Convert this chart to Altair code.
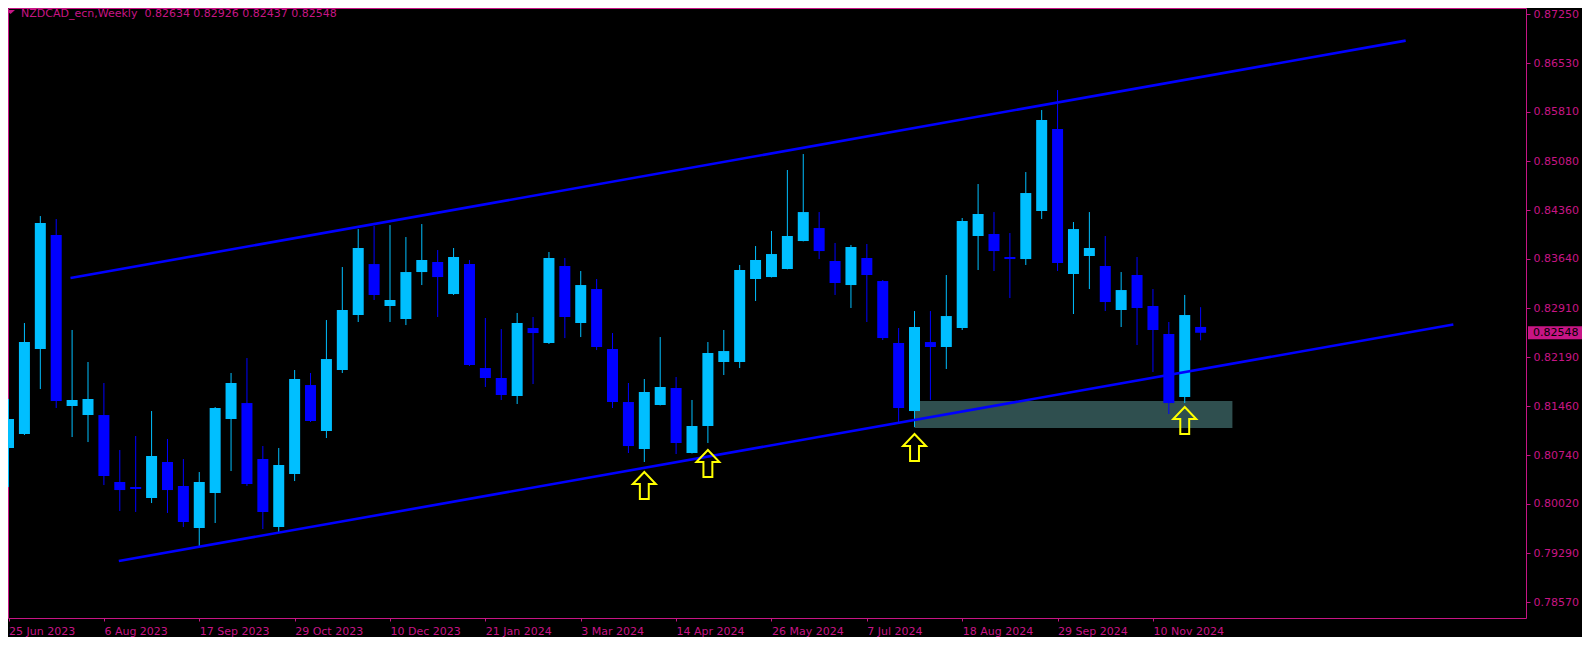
import json
import altair as alt
import pandas as pd

# ---------------- data ----------------
symbol = "NZDCAD_ecn"
period = "Weekly"

opens = [0.80846, 0.81053, 0.82308, 0.83992, 0.81466, 0.81333, 0.81333, 0.80344, 0.80270, 0.80107,
         0.80639, 0.80285, 0.79664, 0.80181, 0.81274, 0.81510, 0.80683, 0.79679, 0.80462, 0.81776,
         0.81097, 0.81998, 0.82810, 0.83563, 0.82943, 0.82751, 0.83445, 0.83593, 0.83120, 0.83563,
         0.82027, 0.81880, 0.81614, 0.82618, 0.82397, 0.83534, 0.82692, 0.83194, 0.82308, 0.81525,
         0.80831, 0.81481, 0.81732, 0.80772, 0.81171, 0.82116, 0.82116, 0.83342, 0.83371, 0.83490,
         0.83903, 0.84095, 0.83608, 0.83253, 0.83652, 0.83312, 0.82397, 0.81392, 0.82411, 0.82338,
         0.82618, 0.83977, 0.84007, 0.83667, 0.83637, 0.84346, 0.85557, 0.83416, 0.83682, 0.83534,
         0.82884, 0.83401, 0.82943, 0.82530, 0.81599, 0.82634]
highs = [0.81570, 0.82692, 0.84272, 0.84228, 0.82589, 0.82116, 0.81806, 0.80816, 0.81023, 0.81392,
         0.80979, 0.80683, 0.80491, 0.81451, 0.81954, 0.82175, 0.80875, 0.80846, 0.81998, 0.81954,
         0.82736, 0.83519, 0.84080, 0.84125, 0.84139, 0.83962, 0.84154, 0.83770, 0.83800, 0.83623,
         0.82766, 0.82603, 0.82840, 0.82781, 0.83741, 0.83652, 0.83460, 0.83342, 0.82544, 0.81806,
         0.81865, 0.82485, 0.81894, 0.81555, 0.82411, 0.82589, 0.83549, 0.83829, 0.84051, 0.84952,
         0.85188, 0.84331, 0.83874, 0.83844, 0.83859, 0.83327, 0.82618, 0.82869, 0.82869, 0.83401,
         0.84243, 0.84745, 0.84331, 0.84021, 0.84922, 0.85838, 0.86133, 0.84184, 0.84331, 0.83977,
         0.83445, 0.83667, 0.83194, 0.82707, 0.83106, 0.82926]
lows = [0.80270, 0.81038, 0.81717, 0.81437, 0.81008, 0.80934, 0.80299, 0.79915, 0.79901, 0.80033,
        0.79886, 0.79679, 0.79398, 0.79738, 0.80506, 0.80285, 0.79649, 0.79605, 0.80358, 0.81230,
        0.80993, 0.81954, 0.82707, 0.83032, 0.82707, 0.82662, 0.83253, 0.82781, 0.83106, 0.82057,
        0.81747, 0.81555, 0.81496, 0.81791, 0.82382, 0.82470, 0.82485, 0.82293, 0.81437, 0.80772,
        0.80639, 0.81475, 0.80757, 0.80765, 0.80920, 0.81924, 0.82027, 0.83017, 0.83365, 0.83485,
        0.83898, 0.83637, 0.83106, 0.82914, 0.82707, 0.82441, 0.81215, 0.81156, 0.81555, 0.82013,
        0.82589, 0.83475, 0.83460, 0.83061, 0.83549, 0.84228, 0.83460, 0.82825, 0.83194, 0.82869,
        0.82633, 0.82367, 0.81968, 0.81348, 0.81510, 0.82437]
closes = [0.81274, 0.82411, 0.84169, 0.81540, 0.81555, 0.81570, 0.80432, 0.80225, 0.80240, 0.80728,
          0.80225, 0.79753, 0.80344, 0.81437, 0.81806, 0.80314, 0.79901, 0.80595, 0.81865, 0.81245,
          0.82160, 0.82884, 0.83800, 0.83106, 0.83032, 0.83445, 0.83623, 0.83371, 0.83667, 0.82072,
          0.81880, 0.81629, 0.82692, 0.82544, 0.83652, 0.82781, 0.83253, 0.82338, 0.81525, 0.80875,
          0.81673, 0.81747, 0.80920, 0.81171, 0.82249, 0.82278, 0.83475, 0.83623, 0.83711, 0.83977,
          0.84331, 0.83755, 0.83283, 0.83815, 0.83401, 0.82470, 0.81437, 0.82633, 0.82338, 0.82795,
          0.84199, 0.84302, 0.83755, 0.83637, 0.84612, 0.85690, 0.83578, 0.84080, 0.83800, 0.83002,
          0.83179, 0.82914, 0.82589, 0.81510, 0.82810, 0.82548]

tick_bars = [0, 6, 12, 18, 24, 30, 36, 42, 48, 54, 60, 66, 72]
tick_labels = ["25 Jun 2023", "6 Aug 2023", "17 Sep 2023", "29 Oct 2023", "10 Dec 2023",
               "21 Jan 2024", "3 Mar 2024", "14 Apr 2024", "26 May 2024", "7 Jul 2024",
               "18 Aug 2024", "29 Sep 2024", "10 Nov 2024"]
price_ticks = [0.87250, 0.86530, 0.85810, 0.85080, 0.84360, 0.83640, 0.82910,
               0.82190, 0.81460, 0.80740, 0.80020, 0.79290, 0.78570]

upper_bars = [3.9, 87.9]
upper_prices = [0.83357, 0.86863]
lower_bars = [6.94, 90.9]
lower_prices = [0.79177, 0.82670]

zone_bars = [57, 77]
zone_prices = [0.81141, 0.81540]

arrow_bars = [40, 44, 57, 74]
arrow_prices = [0.80292, 0.80617, 0.80853, 0.81252]

# ---------------- styling ----------------
PINK = "#C71585"
BULL = "#00BFFF"
BEAR = "#0000FF"
FONT = "DejaVu Sans"
W, H = 1518, 610

candles = pd.DataFrame({
    "bar": list(range(len(opens))),
    "open": opens, "high": highs, "low": lows, "close": closes,
})
candles["dir"] = ["up" if c >= o else "down" for o, c in zip(opens, closes)]

lines = pd.DataFrame({
    "bar": upper_bars + lower_bars,
    "price": upper_prices + lower_prices,
    "line": ["upper"] * 2 + ["lower"] * 2,
})
zone = pd.DataFrame({"b0": [zone_bars[0]], "b1": [zone_bars[1]],
                     "p0": [zone_prices[0]], "p1": [zone_prices[1]]})
arrows = pd.DataFrame({"bar": arrow_bars, "price": arrow_prices})
last = pd.DataFrame({"price": [closes[-1]], "label": [f"{closes[-1]:.5f}"]})
title_txt = (f"{symbol},{period}\u00a0\u00a0{opens[-1]:.5f} {highs[-1]:.5f} "
             f"{lows[-1]:.5f} {closes[-1]:.5f}")
title_df = pd.DataFrame({"t": [title_txt]})

xs = alt.Scale(domain=[0.28125, 95.15625], nice=False, zero=False)
ys = alt.Scale(domain=[0.78335, 0.87345], nice=False, zero=False)

label_expr = json.dumps(tick_labels) + "[round(datum.value / 6)]"
x_axis = alt.Axis(values=tick_bars, labelExpr=label_expr, title=None, orient="bottom",
                  tickSize=3, labelPadding=4, labelAlign="left", labelBaseline="top",
                  labelFlush=False, labelOverlap=False, domain=False, grid=False)
y_axis = alt.Axis(values=price_ticks, format=".5f", title=None, orient="right",
                  tickSize=4, labelPadding=3, labelBaseline="middle",
                  labelFlush=False, labelOverlap=False, domain=False, grid=False)

X = lambda f: alt.X(f, type="quantitative", scale=xs, axis=x_axis)
Y = lambda f: alt.Y(f, type="quantitative", scale=ys, axis=y_axis)

color = alt.Color("dir:N", scale=alt.Scale(domain=["up", "down"], range=[BULL, BEAR]),
                  legend=None)

zone_layer = alt.Chart(zone).mark_rect(color="#2F4F4F", opacity=1).encode(
    x=X("b0"), x2="b1", y=Y("p0"), y2="p1")

wicks = alt.Chart(candles).mark_rule(strokeWidth=1).encode(
    x=X("bar"), y=Y("low"), y2="high", color=color)

bodies = alt.Chart(candles).mark_bar(size=11, opacity=1).encode(
    x=X("bar"), y=Y("open"), y2="close", color=color)

channel = alt.Chart(lines).mark_line(color=BEAR, strokeWidth=2.6).encode(
    x=X("bar"), y=Y("price"), detail="line:N")

arrow_path = "M0,-1L0.85,-0.11L0.33,-0.11L0.33,1L-0.33,1L-0.33,-0.11L-0.85,-0.11Z"
arrow_layer = alt.Chart(arrows).mark_point(
    shape=arrow_path, filled=False, size=729, stroke="#FFFF00", strokeWidth=2, opacity=1
).encode(x=X("bar"), y=Y("price"))

price_box = alt.Chart(last).mark_rect(color=PINK, yOffset=-6.5, y2Offset=6.5).encode(
    x=alt.value(W + 2), x2=alt.value(W + 57), y=Y("price"), y2="price")
price_txt = alt.Chart(last).mark_text(
    font=FONT, fontSize=11, color="#000000", align="left", baseline="middle"
).encode(x=alt.value(W + 7), y=Y("price"), text="label")

title_tri = alt.Chart(title_df).mark_point(
    shape="M-1,-0.45L1,-0.45L0,0.45Z", filled=True, size=81, color=PINK, opacity=1
).encode(x=alt.value(2.5), y=alt.value(4))
title_layer = alt.Chart(title_df).mark_text(
    font=FONT, fontSize=11, color=PINK, align="left", baseline="alphabetic"
).encode(x=alt.value(13), y=alt.value(8.5), text="t")

chart = alt.layer(
    zone_layer, wicks, bodies, channel, arrow_layer, price_box, price_txt, title_tri, title_layer
).properties(
    width=W, height=H,
    padding={"left": 0, "top": 0, "right": 56, "bottom": 19},
    autosize=alt.AutoSizeParams(type="none"),
).configure(background="#000000").configure_view(
    stroke=PINK, strokeWidth=1
).configure_axis(
    labelFont=FONT, labelFontSize=11, labelColor=PINK, tickColor=PINK, tickWidth=1
)

chart.save("out.html", embed_options={"renderer": "svg", "actions": False})
